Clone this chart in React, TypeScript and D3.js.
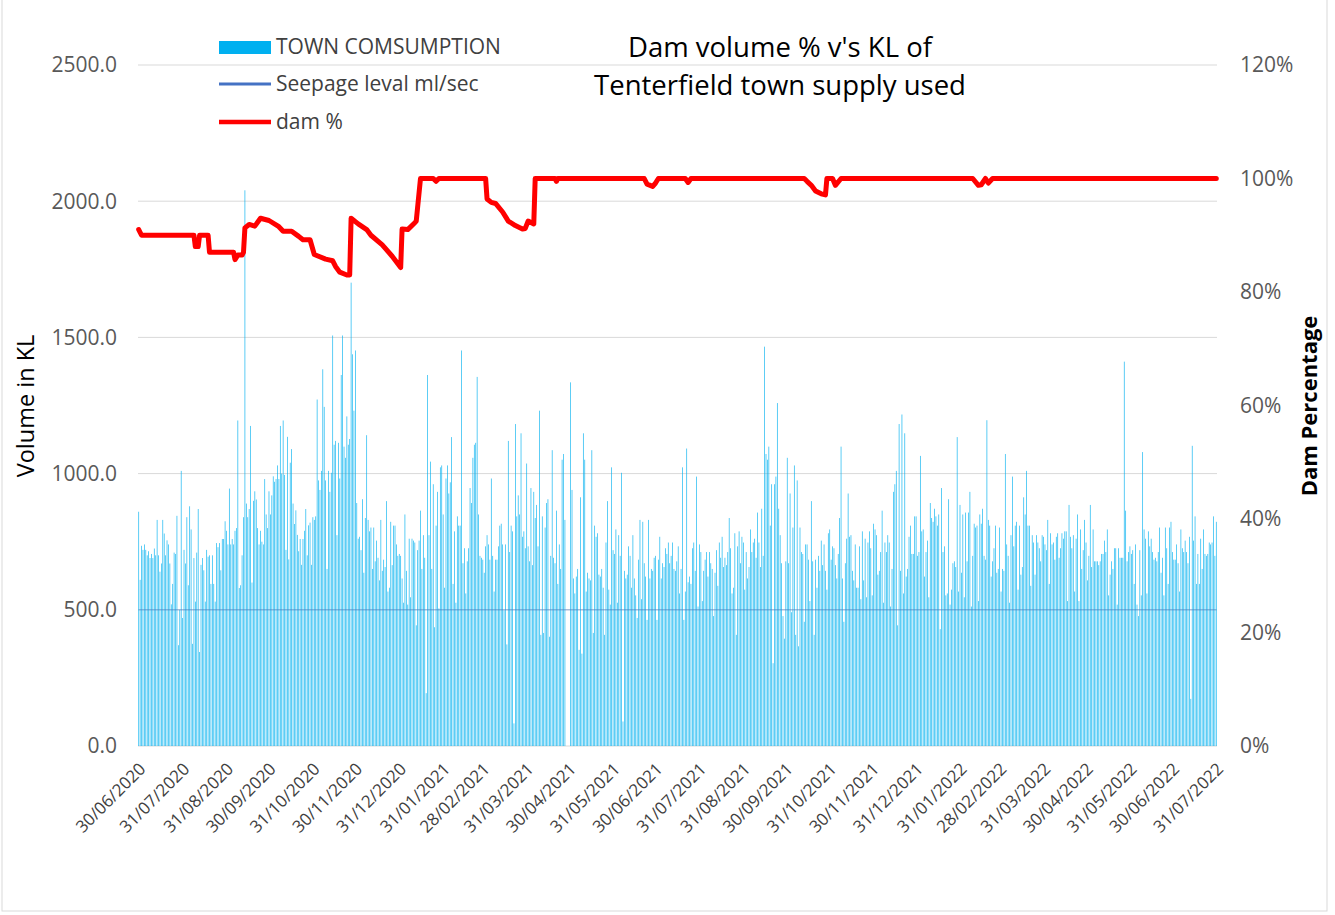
import * as d3 from "d3";

const START_DATE = "2020-06-30";

// daily town consumption (KL) in consecutive runs of days
// 30/06/2020 - 01/11/2020
const USE_RUN_1 = [
  860, 610, 735, 720, 740, 720, 700, 715, 690, 705, 690, 725, 700, 830, 700, 640, 670, 830, 780, 700,
  755, 740, 670, 520, 595, 710, 705, 845, 370, 500, 1010, 470, 720, 670, 840, 590, 880, 795, 375, 690,
  530, 710, 870, 345, 665, 690, 645, 530, 720, 695, 700, 595, 700, 595, 530, 745, 730, 745, 645, 760,
  760, 825, 790, 740, 945, 740, 760, 740, 790, 800, 1195, 580, 590, 700, 840, 2040, 890, 840, 870, 1175,
  600, 900, 935, 905, 800, 740, 790, 750, 740, 980, 850, 800, 935, 850, 920, 990, 970, 980, 1030, 980,
  1175, 1000, 1195, 995, 720, 1135, 685, 1040, 1090, 890, 815, 865, 775, 715, 760, 665, 760, 790, 870, 700,
  810, 820, 665, 840, 830,
];
// 02/11/2020 - 09/03/2021
const USE_RUN_2 = [
  843, 1272, 975, 940, 1010, 1383, 1245, 975, 650, 1010, 933, 1003, 1507, 1106, 1120, 774, 1113, 982, 1362, 1507,
  1099, 1058, 1210, 1106, 1127, 1701, 1438, 1231, 1452, 892, 761, 768, 719, 906, 636, 837, 1141, 830, 788, 802,
  650, 802, 678, 754, 691, 608, 830, 643, 684, 657, 899, 567, 581, 823, 664, 809, 809, 740, 698, 705,
  698, 615, 526, 850, 643, 519, 761, 546, 761, 754, 747, 443, 719, 754, 864, 650, 774, 691, 194, 1362,
  774, 1044, 650, 961, 436, 809, 933, 505, 1023, 1030, 850, 581, 982, 1030, 927, 968, 1134, 595, 788, 526,
  843, 809, 809, 1452, 671, 726, 560, 678, 726, 947, 892, 1058, 1106, 1113, 1355, 850, 698, 691, 684, 636,
  733, 774, 740, 684, 982, 698, 567, 684,
];
// 10/03/2021 - 14/07/2021
const USE_RUN_3 = [
  684, 733, 809, 816, 740, 498, 740, 373, 1120, 712, 809, 788, 83, 1182, 843, 920, 850, 1148, 768, 788,
  726, 1037, 733, 678, 947, 664, 933, 837, 885, 733, 1231, 408, 843, 415, 802, 892, 906, 401, 698, 1086,
  691, 671, 864, 595, 740, 650, 1051, 1072, 830, 0, 0, 0, 1335, 940, 615, 560, 622, 650, 353, 913,
  339, 1148, 1051, 567, 636, 615, 608, 1086, 415, 809, 768, 781, 629, 622, 650, 581, 408, 747, 899, 574,
  519, 1023, 719, 705, 795, 526, 774, 698, 1003, 90, 643, 615, 629, 733, 698, 581, 774, 615, 553, 470,
  684, 830, 539, 823, 671, 622, 463, 830, 615, 650, 643, 691, 698, 463, 684, 768, 615, 671, 657, 726,
  705, 747, 671, 698, 747, 650, 643,
];
// 15/07/2021 - 19/11/2021
const USE_RUN_4 = [
  678, 733, 560, 650, 1023, 463, 567, 1092, 601, 622, 595, 726, 747, 643, 989, 512, 740, 712, 532, 643,
  684, 712, 622, 712, 671, 650, 477, 636, 719, 588, 747, 691, 768, 657, 691, 664, 712, 837, 726, 560,
  581, 781, 408, 733, 788, 671, 768, 747, 574, 712, 615, 657, 795, 712, 747, 761, 691, 857, 747, 657,
  871, 698, 1466, 1072, 1051, 1099, 809, 961, 304, 961, 989, 1259, 871, 774, 671, 477, 394, 678, 1058, 671,
  927, 491, 802, 1030, 408, 975, 366, 802, 712, 705, 456, 740, 740, 684, 532, 899, 678, 408, 684, 581,
  698, 643, 754, 664, 740, 643, 574, 781, 795, 684, 733, 726, 664, 615, 705, 837, 1099, 615, 456, 671,
  761, 927, 768, 774, 643, 608, 740, 581,
];
// 20/11/2021 - 25/03/2022
const USE_RUN_5 = [
  581, 733, 539, 788, 608, 761, 546, 747, 788, 726, 553, 816, 795, 774, 629, 643, 712, 864, 526, 747,
  712, 774, 747, 512, 650, 933, 961, 1010, 443, 1182, 643, 1217, 560, 1148, 622, 650, 768, 809, 705, 705,
  843, 843, 698, 712, 1065, 788, 795, 622, 712, 754, 546, 892, 837, 823, 871, 843, 809, 850, 429, 947,
  712, 733, 553, 560, 906, 519, 574, 671, 678, 657, 1134, 567, 885, 636, 850, 546, 857, 678, 857, 933,
  512, 698, 816, 802, 809, 532, 850, 816, 871, 698, 684, 1196, 830, 809, 622, 678, 726, 809, 636, 650,
  802, 567, 650, 643, 1072, 740, 698, 526, 774, 989, 733, 809, 823, 574, 809, 629, 657, 913, 850, 1010,
  809, 809, 588, 774, 747, 629,
];
// 26/03/2022 - 31/07/2022
const USE_RUN_6 = [
  774, 747, 726, 678, 774, 768, 740, 719, 830, 595, 781, 740, 747, 684, 768, 781, 691, 726, 781, 761,
  788, 788, 532, 885, 768, 726, 774, 567, 761, 850, 532, 795, 650, 719, 830, 747, 608, 698, 885, 657,
  795, 678, 678, 678, 664, 678, 705, 705, 754, 712, 795, 553, 629, 678, 650, 726, 726, 519, 726, 691,
  691, 691, 1411, 864, 678, 712, 733, 705, 719, 595, 740, 519, 477, 719, 553, 1079, 795, 761, 560, 788,
  733, 761, 712, 684, 691, 678, 712, 802, 636, 691, 553, 802, 726, 595, 802, 823, 712, 684, 684, 740,
  671, 567, 795, 726, 712, 754, 712, 671, 768, 173, 1102, 754, 843, 595, 705, 595, 761, 650, 795, 705,
  698, 705, 747, 740, 747, 843, 698, 823,
];

// dam % read at the points where the line changes course (days after START_DATE)
const DAM_DAY = [
  0, 2, 39, 40, 42, 43, 49, 50, 67, 68, 70, 73, 74, 75, 78, 82, 86, 92, 99, 102, 108, 113, 116, 121, 124,
  132, 137, 139, 142, 147, 149, 150, 155, 161, 164, 172, 179, 185, 186, 190, 195, 196, 199, 208, 210, 212,
  245, 246, 249, 252, 257, 261, 266, 271, 273, 275, 279, 280, 294, 295, 296, 357, 359, 363, 365, 367,
  386, 388, 390, 470, 472, 475, 478, 482, 485, 486, 490, 492, 496, 589, 593, 595, 598, 600, 603, 761,
];
const DAM_PCT = [
  91, 90, 90, 88, 88, 90, 90, 87, 87, 85.7, 86.5, 86.5, 87, 91.3, 91.9, 91.6, 93, 92.6, 91.5, 90.7, 90.7, 89.8, 89.2, 89.2, 86.6,
  85.8, 85.5, 84.5, 83.5, 83, 83, 93, 92, 91, 90, 88.3, 86.3, 84.3, 91.1, 91, 92.2, 92.5, 100, 100, 99.5, 100,
  100, 96.4, 95.8, 95.6, 94.1, 92.5, 91.7, 91.1, 91.2, 92.5, 92, 100, 100, 99.5, 100, 100, 99, 98.6, 99.2, 100,
  100, 99.3, 100, 100, 99.5, 98.8, 97.8, 97.3, 97.1, 100, 100, 98.8, 100, 100, 98.8, 98.9, 100, 99.2, 100, 100,
];

const SEEPAGE_LEVEL = 500;

const X_TICKS = [
  "30/06/2020", "31/07/2020", "31/08/2020", "30/09/2020", "31/10/2020", "30/11/2020", "31/12/2020",
  "31/01/2021", "28/02/2021", "31/03/2021", "30/04/2021", "31/05/2021", "30/06/2021", "31/07/2021",
  "31/08/2021", "30/09/2021", "31/10/2021", "30/11/2021", "31/12/2021", "31/01/2022", "28/02/2022",
  "31/03/2022", "30/04/2022", "31/05/2022", "30/06/2022", "31/07/2022",
];
const Y_TICKS = [0, 500, 1000, 1500, 2000, 2500];
const Y2_TICKS = [0, 0.2, 0.4, 0.6, 0.8, 1.0, 1.2];

const FONT = "'Open Sans', 'Liberation Sans', sans-serif";

export default function App() {
  const width = 1335;
  const height = 915;
  const plot = { left: 138, right: 1217, top: 65, bottom: 746 };
  const midY = 406;

  const start = d3.utcParse("%Y-%m-%d")(START_DATE)!;
  const parseTick = d3.utcParse("%d/%m/%Y");
  const usage = [USE_RUN_1, USE_RUN_2, USE_RUN_3, USE_RUN_4, USE_RUN_5, USE_RUN_6].flat();
  const days = usage.map((v, i) => ({ date: d3.utcDay.offset(start, i), v }));
  const end = days[days.length - 1].date;

  const x = d3
    .scaleUtc()
    .domain([d3.utcHour.offset(start, -12), d3.utcHour.offset(end, 12)])
    .range([plot.left, plot.right]);
  const y = d3.scaleLinear().domain([0, 2500]).range([plot.bottom, plot.top]);
  const y2 = d3.scaleLinear().domain([0, 1.2]).range([plot.bottom, plot.top]);

  const dayW = x(d3.utcDay.offset(start, 1)) - x(start);
  const barW = dayW * 0.5;

  const damLine = d3
    .line<number>()
    .x((_, i) => x(d3.utcDay.offset(start, DAM_DAY[i])))
    .y((p) => y2(p / 100));

  const seepLine = d3
    .line<Date>()
    .x((d) => x(d))
    .y(() => y(SEEPAGE_LEVEL));

  return (
    <div style={{ position: "absolute", left: 0, top: 0 }}>
      <svg width={width} height={height} style={{ display: "block", background: "#fff" }}>
        <rect x={2} y={-1} width={1325} height={912} fill="none" stroke="#d9d9d9" />

        {/* gridlines */}
        {Y_TICKS.map((t) => (
          <line
            key={t}
            x1={plot.left}
            x2={plot.right}
            y1={y(t)}
            y2={y(t)}
            stroke="#d9d9d9"
            strokeWidth={1}
          />
        ))}

        {/* town consumption bars */}
        <g fill="#00B0F0" fillOpacity={0.9}>
          {days.map((d, i) => (
            <rect
              key={i}
              x={x(d.date) - barW / 2}
              y={y(d.v)}
              width={barW}
              height={y(0) - y(d.v)}
            />
          ))}
        </g>

        {/* seepage level */}
        <path
          d={seepLine([start, end]) ?? ""}
          fill="none"
          stroke="#4472C4"
          strokeOpacity={0.35}
          strokeWidth={1.5}
        />

        {/* dam % */}
        <path
          d={damLine(DAM_PCT) ?? ""}
          fill="none"
          stroke="#FF0000"
          strokeWidth={5}
          strokeLinejoin="round"
          strokeLinecap="round"
        />

        {/* left axis */}
        {Y_TICKS.map((t) => (
          <text
            key={t}
            x={117}
            y={y(t)}
            dy="0.35em"
            textAnchor="end"
            fontFamily={FONT}
            fontSize={21}
            fill="#595959"
          >
            {t.toFixed(1)}
          </text>
        ))}
        <text
          transform={`translate(34,${midY}) rotate(-90)`}
          textAnchor="middle"
          fontFamily={FONT}
          fontSize={23.5}
          fill="#000"
        >
          Volume in KL
        </text>

        {/* right axis */}
        {Y2_TICKS.map((t) => (
          <text
            key={t}
            x={1240}
            y={y2(t)}
            dy="0.35em"
            textAnchor="start"
            fontFamily={FONT}
            fontSize={21}
            fill="#595959"
          >
            {d3.format(".0%")(t)}
          </text>
        ))}
        <text
          transform={`translate(1317,${midY}) rotate(-90)`}
          textAnchor="middle"
          fontFamily={FONT}
          fontSize={22}
          fontWeight="bold"
          fill="#000"
        >
          Dam Percentage
        </text>

        {/* x axis labels */}
        {X_TICKS.map((lbl) => {
          const tx = x(parseTick(lbl)!);
          return (
            <text
              key={lbl}
              transform={`translate(${tx + 8},${plot.bottom + 24}) rotate(-45)`}
              textAnchor="end"
              fontFamily={FONT}
              fontSize={17}
              fill="#404040"
            >
              {lbl}
            </text>
          );
        })}

        {/* title */}
        <text x={780} y={57} textAnchor="middle" fontFamily={FONT} fontSize={27.5} fill="#000">
          Dam volume % v's KL of
        </text>
        <text x={780} y={95} textAnchor="middle" fontFamily={FONT} fontSize={27.5} fill="#000">
          Tenterfield town supply used
        </text>

        {/* legend */}
        <g fontFamily={FONT} fontSize={21} fill="#404040">
          <rect x={219} y={41} width={52} height={13} fill="#00B0F0" />
          <text x={276} y={54}>TOWN COMSUMPTION</text>
          <line x1={219} x2={271} y1={84} y2={84} stroke="#4472C4" strokeWidth={3} />
          <text x={276} y={91}>Seepage leval ml/sec</text>
          <line x1={219} x2={271} y1={122} y2={122} stroke="#FF0000" strokeWidth={4.5} />
          <text x={276} y={129}>dam %</text>
        </g>
      </svg>
    </div>
  );
}
